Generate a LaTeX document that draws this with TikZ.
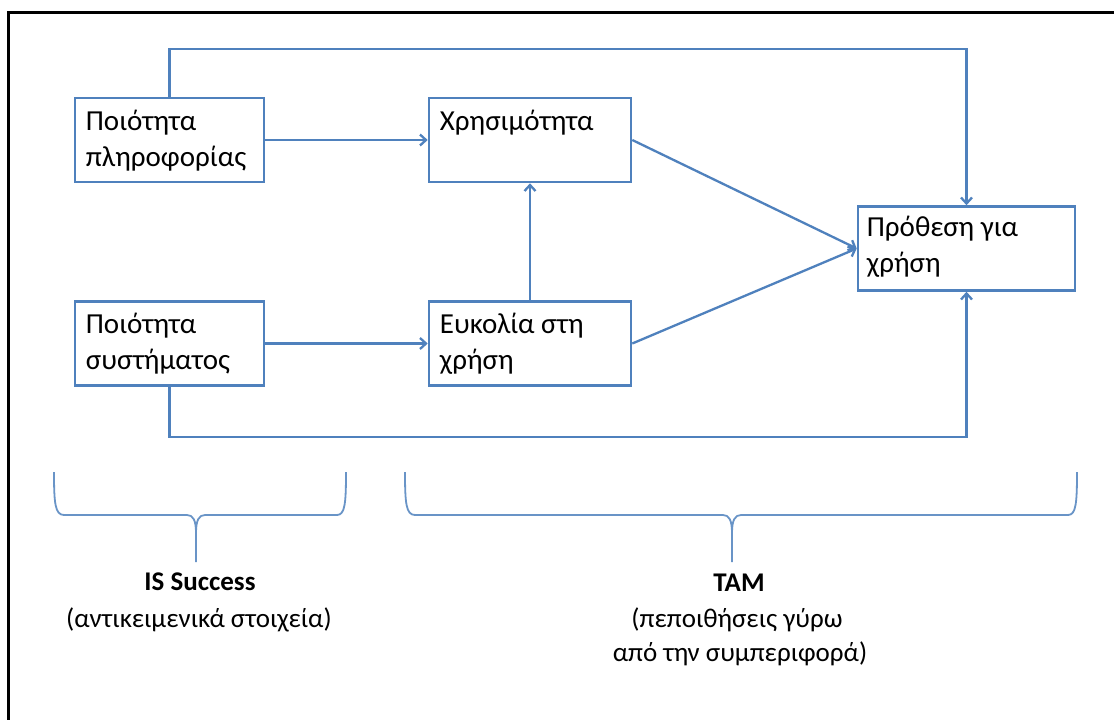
\documentclass[tikz,border=0pt]{standalone}
\usepackage{fontspec}
\setmainfont{Carlito}
\usetikzlibrary{arrows.meta}
\definecolor{ob}{HTML}{4F81BD}
\begin{document}
\begin{tikzpicture}[x=1pt,y=-1pt,
  box/.style={draw=ob, line width=2.6pt, inner sep=0pt, minimum height=84pt},
  txt/.style={anchor=north west, inner sep=0pt, align=left, font=\fontsize{29}{36}\selectfont},
  conn/.style={draw=ob, line width=2.3pt, -{Straight Barb[length=6pt,width=11pt]}},
  brace/.style={draw=ob!85, line width=1.8pt},
  lab/.style={anchor=base, inner sep=0pt, font=\fontsize{27}{33}\selectfont}]
\useasboundingbox (0,0) rectangle (1114,720);
\fill[white] (0,0) rectangle (1114,720);
\draw[line width=3.5pt] (8.5,740) -- (8.5,12.5) -- (1130,12.5);

\node[box, minimum width=189pt] (b1) at (169.5,140) {};
\node[box, minimum width=202pt] (b2) at (530,140) {};
\node[box, minimum width=189pt] (b3) at (169.5,343.5) {};
\node[box, minimum width=202pt] (b4) at (530,343.5) {};
\node[box, minimum width=217pt] (b5) at (966.5,248.5) {};

\node[txt] (t1) at ([xshift=12pt,yshift=-13pt]b1.north west) {Ποιότητα\\πληροφορίας};
\node[txt] (t2) at ([xshift=12pt,yshift=-13pt]b2.north west) {Χρησιμότητα};
\node[txt] (t3) at ([xshift=12pt,yshift=-13pt]b3.north west) {Ποιότητα\\συστήματος};
\node[txt] (t4) at ([xshift=12pt,yshift=-13pt]b4.north west) {Ευκολία στη\\χρήση};
\node[txt] (t5) at ([xshift=10pt,yshift=-11pt]b5.north west) {Πρόθεση για\\χρήση};

\coordinate (top) at (0,49);
\coordinate (bot) at (0,437);

\draw[conn] (b1.east) -- (b2.west);
\draw[conn] (b3.east) -- (b4.west);
\draw[conn] (b4.north) -- (b2.south);
\draw[conn] (b2.east) -- (b5.west);
\draw[conn] (b4.east) -- (b5.west);
\draw[conn] (b1.north) -- (b1.north |- top) -- (b5.north |- top) -- (b5.north);
\draw[conn] (b3.south) -- (b3.south |- bot) -- (b5.south |- bot) -- (b5.south);

\draw[brace] (54,472) .. controls (54,503) and (55,515) .. (64,515) -- (187,515)
  .. controls (193,515) and (196,520) .. (196,533) -- (196,562);
\draw[brace] (196,533) .. controls (196,520) and (199,515) .. (205,515) -- (337,515)
  .. controls (345,515) and (346,503) .. (346,472);
\draw[brace] (405,472) .. controls (405,503) and (406,515) .. (415,515) -- (723,515)
  .. controls (729,515) and (732,520) .. (732,533) -- (732,562);
\draw[brace] (732,533) .. controls (732,520) and (735,515) .. (741,515) -- (1068,515)
  .. controls (1076,515) and (1077,503) .. (1077,472);

\node[lab, font=\fontsize{27}{33}\selectfont\bfseries] (l1) at (200,590) {IS Success};
\node[lab] (l2) at (199,627) {(αντικειμενικά στοιχεία)};
\node[lab, font=\fontsize{27}{33}\selectfont\bfseries] (l3) at (739,591) {TAM};
\node[lab] (l4) at (737,627) {(πεποιθήσεις γύρω};
\node[lab] (l5) at (740,661) {από την συμπεριφορά)};
\end{tikzpicture}
\end{document}
